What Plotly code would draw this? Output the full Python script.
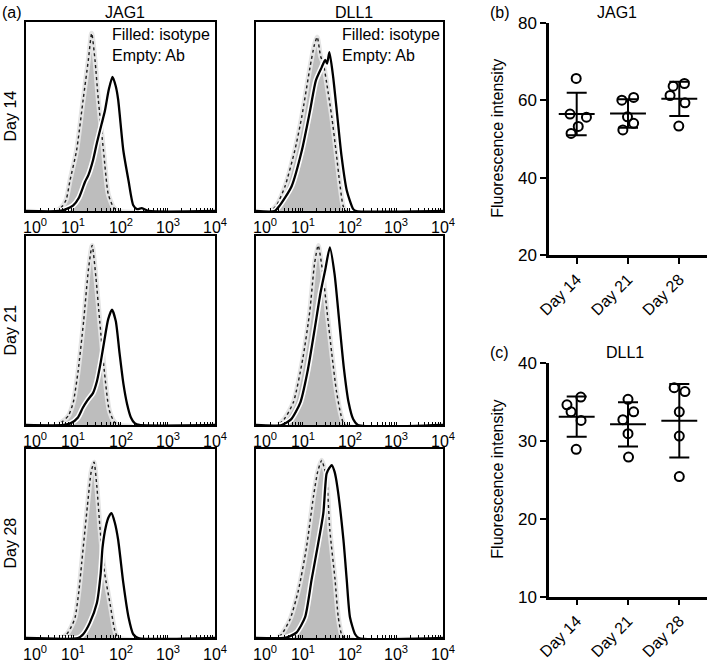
import numpy as np
import plotly.graph_objects as go

W, H = 709, 663
FONT = "Liberation Sans, Arial, Helvetica, sans-serif"

days = ["Day 14", "Day 21", "Day 28"]
markers = ["JAG1", "DLL1"]

# ---- Scatter values (fluorescence intensity, 5 samples per day) ----
jag1_day14 = [65.6, 56.4, 55.6, 53.2, 51.4]
jag1_day21 = [60.0, 60.7, 55.7, 54.0, 52.3]
jag1_day28 = [63.6, 64.3, 61.2, 59.3, 53.3]
dll1_day14 = [35.6, 34.6, 33.7, 32.6, 28.9]
dll1_day21 = [35.3, 33.7, 32.7, 30.9, 27.9]
dll1_day28 = [36.8, 36.3, 33.7, 30.6, 25.4]
# horizontal spread of the points within each day column (category units)
jag1_spread = [[-0.01, -0.13, 0.19, 0.03, -0.11],
               [-0.12, 0.11, -0.01, 0.11, -0.10],
               [-0.12, 0.10, -0.18, 0.11, -0.01]]
dll1_spread = [[0.08, -0.19, -0.11, 0.085, -0.01],
               [0.0, 0.11, -0.10, 0.0, 0.01],
               [-0.10, 0.11, 0.0, 0.0, 0.0]]

# ---- Flow histograms: log10(fluorescence) and % of max count ----
jag1_d14_iso_x = [0, 0.62, 0.75, 0.85, 0.93, 1.07, 1.21, 1.32, 1.39, 1.46, 1.53, 1.64, 1.74, 1.85, 1.95, 4]
jag1_d14_iso_y = [0, 0, 2, 6, 16, 32, 59, 80, 94, 80, 59, 32, 9, 2, 0, 0]
jag1_d14_ab_x = [0, 0.7, 0.85, 1.0, 1.12, 1.25, 1.32, 1.42, 1.50, 1.60, 1.67, 1.75, 1.83, 1.90, 1.95, 2.06, 2.17, 2.27, 2.35, 2.45, 2.5, 2.6, 4]
jag1_d14_ab_y = [0, 0, 1, 3, 7, 15.5, 19, 27, 36, 46, 53, 64, 71, 66, 59, 32, 16, 3, 1, 1.5, 1, 0, 0]

jag1_d21_iso_x = [0, 0.65, 0.78, 0.9, 1.0, 1.1, 1.22, 1.32, 1.40, 1.48, 1.56, 1.66, 1.76, 1.86, 1.95, 4]
jag1_d21_iso_y = [0, 0, 2, 5, 12, 28, 55, 82, 95, 78, 55, 28, 8, 2, 0, 0]
jag1_d21_ab_x = [0, 0.8, 0.95, 1.1, 1.2, 1.3, 1.42, 1.5, 1.58, 1.66, 1.74, 1.82, 1.90, 1.98, 2.06, 2.14, 2.22, 2.3, 2.4, 4]
jag1_d21_ab_y = [0, 0, 1, 4, 9, 13, 17, 23, 33, 45, 56, 61, 55, 38, 22, 11, 4, 1, 0, 0]

jag1_d28_iso_x = [0, 0.72, 0.86, 0.96, 1.04, 1.12, 1.18, 1.30, 1.38, 1.44, 1.50, 1.57, 1.66, 1.78, 1.88, 1.96, 4]
jag1_d28_iso_y = [0, 0, 2, 6, 11, 25, 40, 70, 88, 93, 80, 57, 35, 18, 4, 0, 0]
jag1_d28_ab_x = [0, 1.1, 1.21, 1.35, 1.50, 1.58, 1.62, 1.69, 1.75, 1.81, 1.88, 1.95, 2.06, 2.17, 2.27, 2.38, 4]
jag1_d28_ab_y = [0, 0, 2, 8, 18.5, 34, 48, 59, 64, 66, 61, 52, 29, 11, 2, 0, 0]

dll1_d14_iso_x = [0, 0.3, 0.44, 0.62, 0.83, 0.98, 1.155, 1.25, 1.31, 1.38, 1.44, 1.51, 1.62, 1.71, 1.80, 1.86, 1.92, 4]
dll1_d14_iso_y = [0, 0, 3, 13, 32, 50, 76, 88, 92, 82, 78, 68, 50, 32, 13, 3, 0, 0]
dll1_d14_ab_x = [0, 0.4, 0.51, 0.76, 0.98, 1.155, 1.28, 1.405, 1.48, 1.52, 1.57, 1.65, 1.74, 1.83, 1.94, 2.08, 2.15, 4]
dll1_d14_ab_y = [0, 0, 3, 13, 32, 53, 69, 76, 80, 78, 84, 71, 50, 29, 11, 1, 0, 0]

dll1_d21_iso_x = [0, 0.45, 0.6, 0.8, 1.0, 1.15, 1.25, 1.33, 1.42, 1.52, 1.62, 1.72, 1.82, 1.9, 4]
dll1_d21_iso_y = [0, 0, 3, 12, 35, 60, 85, 95, 82, 60, 38, 18, 5, 0, 0]
dll1_d21_ab_x = [0, 0.55, 0.75, 0.95, 1.1, 1.25, 1.38, 1.48, 1.58, 1.68, 1.78, 1.88, 1.98, 2.08, 2.18, 4]
dll1_d21_ab_y = [0, 0, 3, 12, 28, 50, 70, 82, 94, 80, 55, 30, 12, 3, 0, 0]

dll1_d28_iso_x = [0, 0.45, 0.55, 0.73, 0.905, 1.08, 1.23, 1.32, 1.405, 1.46, 1.51, 1.58, 1.69, 1.76, 1.83, 1.9, 4]
dll1_d28_iso_y = [0, 0, 2, 10, 25, 48, 75, 88, 94, 90, 85, 57, 31, 11, 2, 0, 0]
dll1_d28_ab_x = [0, 0.6, 0.73, 0.87, 1.05, 1.19, 1.33, 1.44, 1.51, 1.57, 1.62, 1.68, 1.74, 1.87, 1.94, 2.01, 2.12, 2.2, 4]
dll1_d28_ab_y = [0, 0, 1, 3, 11, 31, 50, 66, 87, 90, 91.5, 88, 80, 52, 31, 11, 2, 0, 0]

decade_labels = ["10<sup>0</sup>", "10<sup>1</sup>", "10<sup>2</sup>", "10<sup>3</sup>", "10<sup>4</sup>"]


def px(x):
    return x / W


def py(y):
    return 1 - y / H


fig = go.Figure()

# histogram panel geometry (pixels)
col_x = [(26, 215), (256, 443)]
row_y = [(22, 211), (236, 425), (449, 638)]

hist_sets = [
    (jag1_d14_iso_x, jag1_d14_iso_y, jag1_d14_ab_x, jag1_d14_ab_y),
    (dll1_d14_iso_x, dll1_d14_iso_y, dll1_d14_ab_x, dll1_d14_ab_y),
    (jag1_d21_iso_x, jag1_d21_iso_y, jag1_d21_ab_x, jag1_d21_ab_y),
    (dll1_d21_iso_x, dll1_d21_iso_y, dll1_d21_ab_x, dll1_d21_ab_y),
    (jag1_d28_iso_x, jag1_d28_iso_y, jag1_d28_ab_x, jag1_d28_ab_y),
    (dll1_d28_iso_x, dll1_d28_iso_y, dll1_d28_ab_x, dll1_d28_ab_y),
]

minor_ticks = [n + np.log10(k) for n in range(4) for k in range(1, 10)] + [4]

annotations = []
layout_axes = {}

for i, (ix, iy, ax_, ay_) in enumerate(hist_sets):
    n = i + 1
    r, c = divmod(i, 2)
    xs = "x" if n == 1 else f"x{n}"
    ys = "y" if n == 1 else f"y{n}"
    # isotype: gray filled
    fig.add_trace(go.Scatter(x=ix, y=iy, xaxis=xs, yaxis=ys, mode="lines",
                             line=dict(color="#e4e4e4", width=5, shape="spline", smoothing=0.6),
                             fill="tozeroy", fillcolor="#bdbdbd", showlegend=False, hoverinfo="skip"))
    fig.add_trace(go.Scatter(x=ix, y=iy, xaxis=xs, yaxis=ys, mode="lines",
                             line=dict(color="#1e1e1e", width=1.4, dash="dot", shape="spline", smoothing=0.6),
                             showlegend=False, hoverinfo="skip"))
    # antibody: black line with white halo
    fig.add_trace(go.Scatter(x=ax_, y=ay_, xaxis=xs, yaxis=ys, mode="lines",
                             line=dict(color="white", width=5.5, shape="spline", smoothing=0.6),
                             showlegend=False, hoverinfo="skip"))
    fig.add_trace(go.Scatter(x=ax_, y=ay_, xaxis=xs, yaxis=ys, mode="lines",
                             line=dict(color="black", width=2.3, shape="spline", smoothing=0.6),
                             showlegend=False, hoverinfo="skip"))
    x0, x1 = col_x[c]
    y0, y1 = row_y[r]
    layout_axes["xaxis" if n == 1 else f"xaxis{n}"] = dict(
        domain=[px(x0), px(x1)], range=[0, 4], anchor=ys,
        showline=True, mirror=True, linecolor="black", linewidth=2,
        showgrid=False, zeroline=False, ticks="inside", ticklen=3, tickwidth=1.2,
        tickcolor="black", tickmode="array", tickvals=minor_ticks, showticklabels=False)
    layout_axes["yaxis" if n == 1 else f"yaxis{n}"] = dict(
        domain=[py(y1), py(y0)], range=[0, 100], anchor=xs,
        showline=True, mirror=True, linecolor="black", linewidth=2,
        showgrid=False, zeroline=False, ticks="", showticklabels=False)
    # decade labels
    for d, lab in enumerate(decade_labels):
        annotations.append(dict(text=lab, xref=xs, yref="paper",
                                x=d if d > 0 else 0.2, y=py(y1 + 15),
                                xanchor="center", yanchor="middle", showarrow=False,
                                borderpad=0,
                                font=dict(size=16, color="black", family=FONT)))
    if r == 0:
        annotations.append(dict(text="Filled: isotype<br>Empty: Ab", xref="paper", yref="paper",
                                x=px(x0 + 84), y=py(y0 + 2), xanchor="left", yanchor="top",
                                align="left", showarrow=False,
                                font=dict(size=16, color="black", family=FONT)))
        annotations.append(dict(text=markers[c], xref="paper", yref="paper",
                                x=px((x0 + x1) / 2 + 4), y=py(12), xanchor="center", yanchor="middle",
                                showarrow=False, font=dict(size=16, color="black", family=FONT)))
    if c == 0:
        annotations.append(dict(text=days[r], xref="paper", yref="paper", textangle=-90,
                                x=px(10), y=py((y0 + y1) / 2), xanchor="center", yanchor="middle",
                                showarrow=False, font=dict(size=16, color="black", family=FONT)))

annotations.append(dict(text="(a)", xref="paper", yref="paper", x=px(0), y=py(12),
                        xanchor="left", yanchor="middle", showarrow=False,
                        font=dict(size=16, color="black", family=FONT)))

# ---- scatter panels ----
scatter_sets = [
    ("JAG1", [jag1_day14, jag1_day21, jag1_day28], jag1_spread, (22.7, 255), [20, 80], 20, "(b)"),
    ("DLL1", [dll1_day14, dll1_day21, dll1_day28], dll1_spread, (362.7, 596.7), [10, 40], 10, "(c)"),
]

for k, (name, groups, spread, (ytop, ybot), yr, dt, tag) in enumerate(scatter_sets):
    n = 7 + k
    xs, ys = f"x{n}", f"y{n}"
    means = [float(np.mean(g)) for g in groups]
    sds = [float(np.std(g, ddof=1)) for g in groups]
    px_all, py_all = [], []
    for i, g in enumerate(groups):
        px_all += [i + o for o in spread[i]]
        py_all += g
    fig.add_trace(go.Scatter(x=px_all, y=py_all, xaxis=xs, yaxis=ys, mode="markers",
                             marker=dict(symbol="circle-open", size=9, color="black",
                                         line=dict(width=2, color="black")),
                             showlegend=False, hoverinfo="skip"))
    mx, my = [], []
    for i, m in enumerate(means):
        mx += [i - 0.35, i + 0.35, None]
        my += [m, m, None]
    fig.add_trace(go.Scatter(x=mx, y=my, xaxis=xs, yaxis=ys, mode="lines",
                             line=dict(color="black", width=2), showlegend=False, hoverinfo="skip"))
    fig.add_trace(go.Scatter(x=[0, 1, 2], y=means, xaxis=xs, yaxis=ys, mode="markers",
                             marker=dict(size=1, color="rgba(0,0,0,0)"),
                             error_y=dict(type="data", array=sds, visible=True, width=10,
                                          thickness=2, color="black"),
                             showlegend=False, hoverinfo="skip"))
    layout_axes[f"xaxis{n}"] = dict(
        domain=[px(549), px(707)], range=[-0.54, 2.54], anchor=ys,
        showline=True, linecolor="black", linewidth=2.5, showgrid=False, zeroline=False,
        ticks="outside", ticklen=6, tickwidth=2, tickcolor="black",
        tickmode="array", tickvals=[0, 1, 2], ticktext=days, tickangle=-45,
        tickfont=dict(size=16, color="black", family=FONT))
    layout_axes[f"yaxis{n}"] = dict(
        domain=[py(ybot), py(ytop)], range=yr, anchor=xs,
        showline=True, linecolor="black", linewidth=2.5, showgrid=False, zeroline=False,
        ticks="outside", ticklen=6, tickwidth=2, tickcolor="black",
        tickmode="linear", tick0=yr[0], dtick=dt,
        tickfont=dict(size=17, color="black", family=FONT))
    annotations.append(dict(text="Fluorescence intensity", xref="paper", yref="paper", textangle=-90,
                            x=px(498), y=py((ytop + ybot) / 2), xanchor="center", yanchor="middle",
                            showarrow=False, font=dict(size=16, color="black", family=FONT)))
    annotations.append(dict(text=name, xref="paper", yref="paper",
                            x=px(617 + 8 * k), y=py(ytop - 10), xanchor="center", yanchor="middle",
                            showarrow=False, font=dict(size=16, color="black", family=FONT)))
    annotations.append(dict(text=tag, xref="paper", yref="paper",
                            x=px(488), y=py(ytop - 10), xanchor="left", yanchor="middle",
                            showarrow=False, font=dict(size=16, color="black", family=FONT)))

fig.update_layout(width=W, height=H, margin=dict(l=0, r=0, t=0, b=0, pad=0, autoexpand=False),
                  paper_bgcolor="white", plot_bgcolor="rgba(0,0,0,0)",
                  font=dict(family=FONT, color="black"),
                  annotations=annotations, showlegend=False, **layout_axes)

fig.write_html(
    "out.html", config={"displayModeBar": False},
    post_script=("document.documentElement.style.margin='0';"
                 "document.body.style.margin='0';document.body.style.padding='0';"
                 "document.documentElement.style.overflow='hidden';document.body.style.overflow='hidden';"))
